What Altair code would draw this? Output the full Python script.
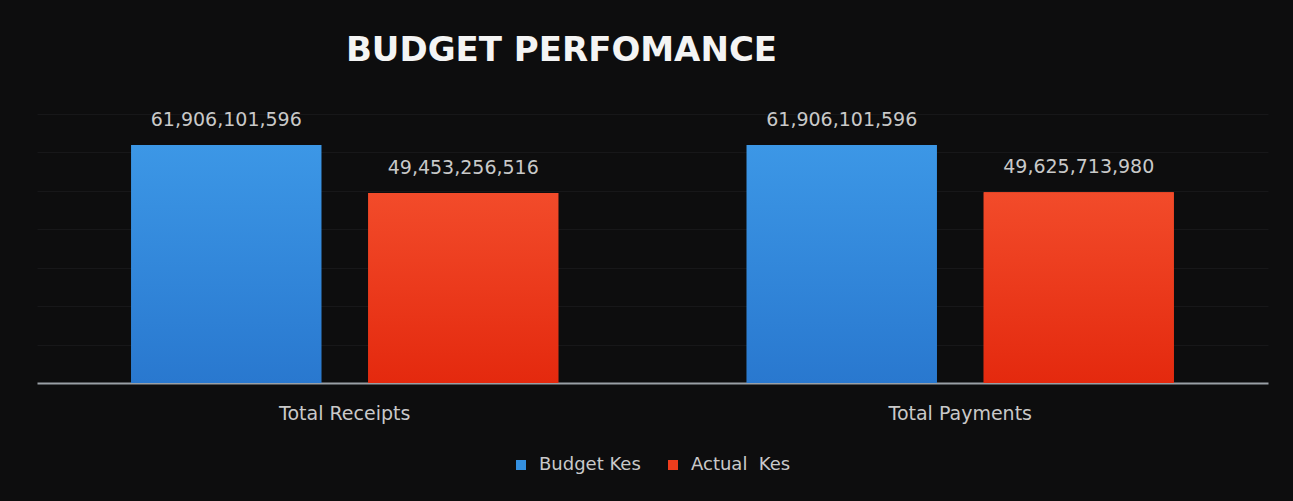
import altair as alt
import pandas as pd

categories = ["Total Receipts", "Total Payments"]
series = ["Budget Kes", "Actual\u00a0 Kes"]
budget = [61906101596, 61906101596]
actual = [49453256516, 49625713980]
colors = ["#3490e0", "#ee3d1d"]

rows = []
for i, c in enumerate(categories):
    rows.append({"cat": c, "series": series[0], "value": budget[i],
                 "label": f"{budget[i]:,}"})
    rows.append({"cat": c, "series": series[1], "value": actual[i],
                 "label": f"{actual[i]:,}"})
df = pd.DataFrame(rows)

FONT = "DejaVu Sans"
LABEL_COLOR = "#c9c9c9"

x = alt.X("cat:N", sort=categories,
          scale=alt.Scale(paddingInner=0, paddingOuter=0),
          axis=alt.Axis(title=None, labelAngle=0, ticks=False,
                        domainColor="#9aa0a6", domainWidth=2,
                        labelColor=LABEL_COLOR, labelFontSize=19,
                        labelFont=FONT, labelPadding=21, grid=False))
xo = alt.XOffset("series:N", sort=series,
                 scale=alt.Scale(paddingInner=0.198, paddingOuter=0.3975))
y = alt.Y("value:Q", scale=alt.Scale(domain=[0, 70e9]),
          axis=alt.Axis(title=None, labels=False, ticks=False, domain=False,
                        grid=True, gridColor="#171719", gridWidth=1,
                        values=[1e10, 2e10, 3e10, 4e10, 5e10, 6e10, 7e10]))

base = alt.Chart(df)

bars = base.mark_bar().encode(
    x=x, xOffset=xo, y=y,
    color=alt.Color("series:N", sort=series,
                    scale=alt.Scale(domain=series, range=colors),
                    legend=alt.Legend(title=None, orient="none",
                                      legendX=475, legendY=342,
                                      direction="horizontal",
                                      symbolType="square", symbolSize=100,
                                      symbolStrokeWidth=0,
                                      labelColor=LABEL_COLOR, labelFontSize=18,
                                      labelFont=FONT, labelOffset=9,
                                      columnPadding=23, padding=0)),
)

grad_blue = alt.Gradient(gradient="linear",
                         stops=[alt.GradientStop(color="#3c97e6", offset=0),
                                alt.GradientStop(color="#2978cf", offset=1)],
                         x1=0, x2=0, y1=0, y2=1)
grad_red = alt.Gradient(gradient="linear",
                        stops=[alt.GradientStop(color="#f24b2a", offset=0),
                               alt.GradientStop(color="#e4290e", offset=1)],
                        x1=0, x2=0, y1=0, y2=1)

blue = base.mark_bar(color=grad_blue).encode(x=x, xOffset=xo, y=y).transform_filter(
    alt.datum.series == series[0])
red = base.mark_bar(color=grad_red).encode(x=x, xOffset=xo, y=y).transform_filter(
    alt.datum.series == series[1])

labels = base.mark_text(baseline="alphabetic", dy=-19, fontSize=19, font=FONT,
                        color=LABEL_COLOR).encode(
    x=x, xOffset=xo, y=y, text="label:N")

chart = alt.layer(bars, blue, red, labels).properties(
    width=1231, height=269,
    autosize=alt.AutoSizeParams(type="none"),
    padding={"left": 37, "top": 114, "right": 25, "bottom": 118},
    background="#0d0d0e",
    title=alt.TitleParams(text="BUDGET PERFOMANCE", anchor="middle",
                          frame="group", font=FONT, fontSize=34,
                          fontWeight="bold", color="#f4f4f4",
                          baseline="alphabetic", offset=16, dx=-91),
).configure_view(stroke=None)

chart.save("out.html", embed_options={"renderer": "svg", "actions": False})
